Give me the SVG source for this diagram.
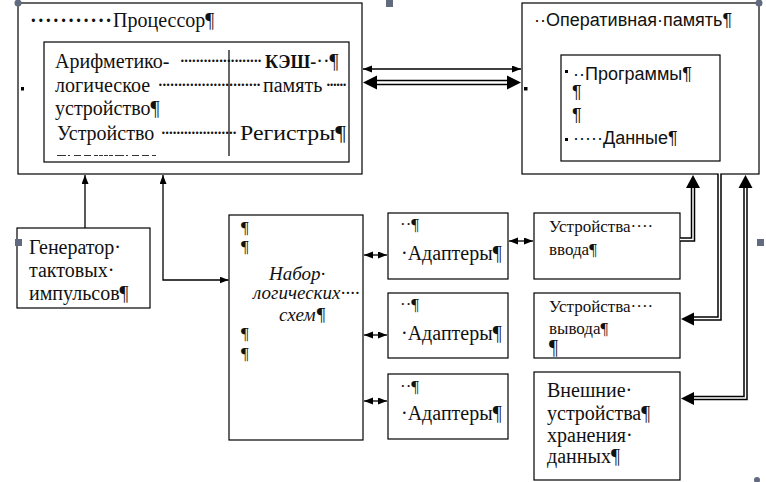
<svg xmlns="http://www.w3.org/2000/svg" width="766" height="482" viewBox="0 0 766 482">
<style>
.box{fill:#fff;stroke:#000;stroke-width:1.2}
.ser{font-family:"Liberation Serif","Times New Roman",serif;font-size:20px;fill:#111}
.sans{font-family:"Liberation Sans",Arial,sans-serif;font-size:18px;fill:#111}
.it{font-style:italic;font-size:19px}
.sm{font-size:17px}
.thin{fill:none;stroke:#000;stroke-width:1.3}
.dblb{fill:none;stroke:#000;stroke-width:4.5}
.dblw{fill:none;stroke:#fff;stroke-width:1.5}
.head{fill:#000}
.handle{fill:#626a80}
.mk{fill:#000}
</style>
<defs>
<marker id="ah" markerUnits="userSpaceOnUse" markerWidth="10" markerHeight="8" refX="9" refY="3.5" orient="auto-start-reverse">
<path d="M0,0 L9,3.5 L0,7 z" fill="#000"/>
</marker>
</defs>

<g id="processor">
<rect class="box" x="18" y="3" width="344" height="171"/>
<rect class="box" x="44" y="42" width="305" height="120"/>
<line x1="229" y1="50" x2="229" y2="156" stroke="#000" stroke-width="1.2"/>
<text class="ser" x="30" y="27" font-weight="bold" font-size="22" textLength="82" lengthAdjust="spacing">···········</text>
<text class="ser" x="113" y="27">Процессор¶</text>
<text class="ser" x="55" y="68" font-size="21">Арифметико-</text>
<text class="ser" x="179" y="68" textLength="84" lengthAdjust="spacing">·····················</text>
<text class="ser" x="265" y="68"><tspan font-weight="bold" font-size="18">КЭШ-</tspan>··¶</text>
<text class="ser" x="55" y="92" font-size="20.5">логическое</text>
<text class="ser" x="157" y="92" textLength="105" lengthAdjust="spacing">··························</text>
<text class="ser" x="263" y="92">память</text>
<text class="ser" x="325" y="92" textLength="23" lengthAdjust="spacing">······</text>
<text class="ser" x="55" y="115" font-size="20.5">устройство¶</text>
<text class="ser" x="57" y="140" font-size="20.5">Устройство</text>
<text class="ser" x="160" y="140" textLength="78" lengthAdjust="spacing">····················</text>
<text class="ser" x="240" y="140" font-size="23" textLength="106" lengthAdjust="spacingAndGlyphs">Регистры¶</text>
<line x1="57" y1="155.5" x2="157" y2="155.5" stroke="#333" stroke-width="1" stroke-dasharray="9,2,2,4,7,3,7,3,4,1,4,1,4,1,4,2"/>
</g>

<g id="memory">
<rect class="box" x="522" y="3" width="237" height="171"/>
<rect class="box" x="561" y="55" width="159" height="106"/>
<text class="sans" x="534" y="26" font-size="18.5">··Оперативная·память¶</text>
<text class="sans" x="573" y="80" font-size="18.5">··Программы¶</text>
<text class="sans" x="572" y="98" font-size="11">¶</text>
<text class="sans" x="572" y="121" font-size="11">¶</text>
<text class="sans" x="573" y="144">·····Данные¶</text>
</g>

<g id="generator">
<rect class="box" x="17" y="228" width="133" height="80"/>
<text class="ser" x="29" y="254">Генератор·</text>
<text class="ser" x="29" y="277">тактовых·</text>
<text class="ser" x="29" y="300">импульсов¶</text>
</g>

<g id="logic">
<rect class="box" x="229" y="215" width="134" height="225"/>
<text class="ser sm" x="241" y="233">¶</text>
<text class="ser sm" x="241" y="252">¶</text>
<text class="ser it" x="269" y="280">Набор·</text>
<text class="ser it" x="253" y="299">логических····</text>
<text class="ser it" x="279" y="321">схем¶</text>
<text class="ser sm" x="241" y="339">¶</text>
<text class="ser sm" x="241" y="359">¶</text>
</g>

<g id="adapter1">
<rect class="box" x="388" y="213" width="120" height="66"/>
<text class="ser sm" x="400" y="230">··¶</text>
<text class="ser" x="401" y="260">·Адаптеры¶</text>
</g>
<g id="adapter2">
<rect class="box" x="388" y="293" width="120" height="65"/>
<text class="ser sm" x="400" y="310">··¶</text>
<text class="ser" x="401" y="340">·Адаптеры¶</text>
</g>
<g id="adapter3">
<rect class="box" x="388" y="374" width="120" height="65"/>
<text class="ser sm" x="400" y="392">··¶</text>
<text class="ser" x="401" y="420">·Адаптеры¶</text>
</g>

<g id="input">
<rect class="box" x="534" y="213" width="146" height="66"/>
<text class="ser sm" x="549" y="232">Устройства····</text>
<text class="ser sm" x="549" y="255">ввода¶</text>
</g>
<g id="output">
<rect class="box" x="534" y="293" width="146" height="65"/>
<text class="ser sm" x="549" y="312">Устройства····</text>
<text class="ser sm" x="549" y="334">вывода¶</text>
<text class="ser" x="549" y="354" font-size="11">¶</text>
</g>
<g id="storage">
<rect class="box" x="534" y="372" width="146" height="108"/>
<text class="ser" x="547" y="397">Внешние·</text>
<text class="ser" x="547" y="420">устройства¶</text>
<text class="ser" x="547" y="442">хранения·</text>
<text class="ser" x="547" y="463">данных¶</text>
</g>

<g id="connectors">
<line class="thin" x1="363" y1="69" x2="521" y2="69" marker-start="url(#ah)" marker-end="url(#ah)"/>
<line x1="375" y1="80.5" x2="509" y2="80.5" stroke="#000" stroke-width="1.3"/>
<line x1="375" y1="84.5" x2="509" y2="84.5" stroke="#000" stroke-width="1.3"/>
<polygon class="head" points="363,82.5 377,75.5 377,89.5"/>
<polygon class="head" points="521,82.5 507,75.5 507,89.5"/>
<line class="thin" x1="85" y1="228" x2="85" y2="175" marker-end="url(#ah)"/>
<path class="thin" d="M163,175 V280 H228.5" marker-start="url(#ah)" marker-end="url(#ah)"/>
<line class="thin" x1="364" y1="255" x2="387" y2="255" marker-start="url(#ah)" marker-end="url(#ah)"/>
<line class="thin" x1="364" y1="335" x2="387" y2="335" marker-start="url(#ah)" marker-end="url(#ah)"/>
<line class="thin" x1="364" y1="401" x2="387" y2="401" marker-start="url(#ah)" marker-end="url(#ah)"/>
<line class="thin" x1="509" y1="241" x2="533" y2="241" marker-start="url(#ah)" marker-end="url(#ah)"/>
<path class="dblb" d="M680,239.5 H693 V186"/>
<path class="dblw" d="M680,239.5 H693 V186"/>
<polygon class="head" points="693,175 686,188 700,188"/>
<path class="dblb" d="M719.5,174 V318.5 H692"/>
<path class="dblw" d="M719.5,173 V318.5 H692"/>
<polygon class="head" points="681,319 694,312.5 694,325.5"/>
<path class="dblb" d="M745.5,186 V398 H692"/>
<path class="dblw" d="M745.5,186 V398 H692"/>
<polygon class="head" points="745.5,175 738.5,188 752.5,188"/>
<polygon class="head" points="681,398.5 694,392 694,405"/>
</g>

<g id="handles">
<circle class="handle" cx="18" cy="3" r="3.5"/>
<circle class="handle" cx="759" cy="3" r="3.5"/>
<circle class="handle" cx="757" cy="480" r="3"/>
<rect class="handle" x="386" y="0" width="7" height="7"/>
<rect class="handle" x="15" y="239" width="7" height="7"/>
<rect class="handle" x="757" y="239" width="7" height="7"/>
<rect class="mk" x="21" y="87" width="3" height="3.5"/>
<rect class="mk" x="524" y="87" width="3.5" height="3.5"/>
<rect class="mk" x="565" y="70" width="3" height="3"/>
<rect class="mk" x="565" y="138" width="3" height="3"/>
</g>
</svg>
